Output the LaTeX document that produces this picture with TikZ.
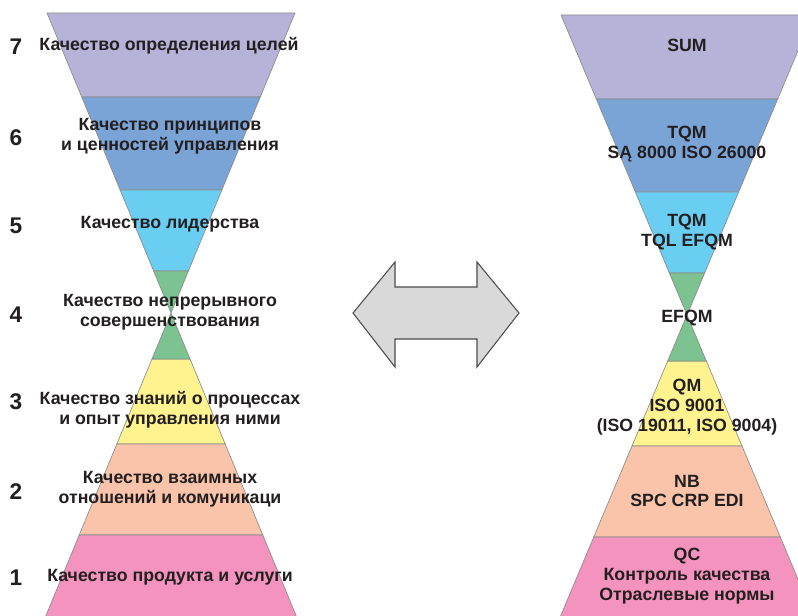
\documentclass[tikz,border=0pt]{standalone}
\usepackage{fontspec}
\setmainfont{Liberation Sans}
\usetikzlibrary{positioning}

\definecolor{cSeven}{HTML}{B7B3D8}
\definecolor{cSix}{HTML}{7BA4D6}
\definecolor{cFive}{HTML}{6ACDF2}
\definecolor{cFour}{HTML}{7CC391}
\definecolor{cThree}{HTML}{FFF38F}
\definecolor{cTwo}{HTML}{F9C4AA}
\definecolor{cOne}{HTML}{F493BD}
\definecolor{txt}{HTML}{231F20}
\definecolor{edge}{HTML}{8C8C8C}

\tikzset{
  band/.style={draw=edge, line width=0.5pt},
  lbl/.style={font=\bfseries\fontsize{13.3}{14.8}\selectfont, text=txt, align=center, inner sep=0pt},
  num/.style={font=\bfseries\fontsize{17}{20}\selectfont, text=txt, inner sep=0pt}
}

% #1 centre x, #2 waist y, #3 half width at the ends
\newcommand{\sandglass}[3]{%
  \foreach \ya/\yb/\bandcol in {13/97/cSeven,97/190/cSix,190/271/cFive,359/444/cThree,444/535/cTwo,535/620/cOne}{
    \filldraw[band,fill=\bandcol] ({#1-#3/300*abs(\ya-#2)},\ya) -- ({#1+#3/300*abs(\ya-#2)},\ya)
      -- ({#1+#3/300*abs(\yb-#2)},\yb) -- ({#1-#3/300*abs(\yb-#2)},\yb) -- cycle;
  }
  \filldraw[band,fill=cFour] ({#1-#3/300*(#2-271)},271) -- ({#1+#3/300*(#2-271)},271) -- (#1,#2)
    -- ({#1+#3/300*(359-#2)},359) -- ({#1-#3/300*(359-#2)},359) -- (#1,#2) -- cycle;
}

\begin{document}
\begin{tikzpicture}[x=0.75pt,y=-0.75pt]
  \useasboundingbox (0,0) rectangle (798,616);
  \clip (0,0) rectangle (798,616);

  % left hourglass
  \sandglass{171}{313}{124}

  \node[num] (n7) at (16,47) {7};
  \node[num] (n6) at (16,138) {6};
  \node[num] (n5) at (16,226) {5};
  \node[num] (n4) at (16,315) {4};
  \node[num] (n3) at (16,402) {3};
  \node[num] (n2) at (16,492) {2};
  \node[num] (n1) at (16,578) {1};

  \node[lbl] (l7) at (169,46) {Качество определения целей};
  \node[lbl] (l6) at (170,136) {Качество принципов\\и ценностей управления};
  \node[lbl] (l5) at (170,224) {Качество лидерства};
  \node[lbl] (l4) at (170,312) {Качество непрерывного\\совершенствования};
  \node[lbl] (l3) at (170,410) {Качество знаний о процессах\\и опыт управления ними};
  \node[lbl] (l2) at (170,489) {Качество взаимных\\отношений и комуникаци};
  \node[lbl] (l1) at (170,577) {Качество продукта и услуги};

  % right hourglass
  \begin{scope}[shift={(0,2)}]
    \sandglass{687}{313}{126}
  \end{scope}

  \node[lbl] (r7) at (687,45) {SUM};
  \node[lbl] (r6) at (687,144) {TQM\\SĄ 8000 ISO 26000};
  \node[lbl] (r5) at (687,232) {TQM\\TQL EFQM};
  \node[lbl] (r4) at (687,318) {EFQM};
  \node[lbl] (r3) at (687,407) {QM\\ISO 9001\\(ISO 19011, ISO 9004)};
  \node[lbl] (r2) at (687,491) {NB\\SPC CRP EDI};
  \node[lbl] (r1) at (687,576) {QC\\Контроль качества\\Отраслевые нормы};

  % double arrow
  \filldraw[fill=gray!30, draw=gray!60!black, line width=0.8pt, line join=miter]
    (353,313) -- (395,262) -- (395,287) -- (477,287) -- (477,262) -- (519,313)
    -- (477,367) -- (477,339) -- (395,339) -- (395,367) -- cycle;
\end{tikzpicture}
\end{document}
